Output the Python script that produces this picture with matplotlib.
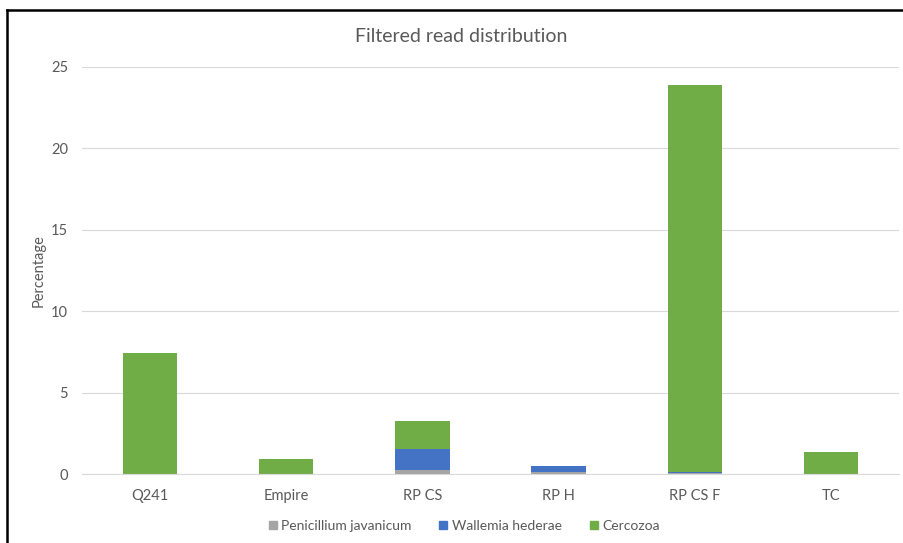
import numpy as np
import matplotlib.pyplot as plt
from matplotlib.lines import Line2D

# Filtered read distribution per sample (percent of reads)
samples = ['Q241', 'Empire', 'RP CS', 'RP H', 'RP CS F', 'TC']
penicillium = [0.0, 0.0, 0.25, 0.1, 0.05, 0.0]
wallemia = [0.0, 0.0, 1.3, 0.4, 0.1, 0.0]
cercozoa = [7.43, 0.92, 1.71, 0.0, 23.75, 1.33]

series = [
    ('Penicillium javanicum', penicillium, '#A5A5A5'),
    ('Wallemia hederae', wallemia, '#4472C4'),
    ('Cercozoa', cercozoa, '#70AD47'),
]

plt.rcParams['font.family'] = ['Lato', 'DejaVu Sans']
text_col = '#595959'

fig = plt.figure(figsize=(9.04, 5.43), dpi=100)
ax = fig.add_axes([82 / 904, 1 - 474 / 543, 817 / 904, 407 / 543])

x = np.arange(len(samples))
bottom = np.zeros(len(samples))
for name, vals, col in series:
    ax.bar(x, vals, width=0.4, bottom=bottom, color=col, label=name,
           linewidth=0, zorder=3)
    bottom += np.array(vals)

ax.set_xlim(-0.5, len(samples) - 0.5)
ax.set_ylim(0, 25)
ax.set_yticks(range(0, 26, 5))
ax.set_xticks(x)
ax.set_xticklabels(samples)
ax.grid(axis='y', color='#D9D9D9', linewidth=0.8, zorder=0)
for s in ['top', 'right', 'left']:
    ax.spines[s].set_visible(False)
ax.spines['bottom'].set_color('#D9D9D9')
ax.spines['bottom'].set_zorder(4)
ax.tick_params(axis='both', length=0, labelsize=10.5, colors=text_col)
ax.tick_params(axis='y', pad=10)
ax.tick_params(axis='x', pad=11)
ax.set_ylabel('Percentage', fontsize=10.5, color=text_col, labelpad=4)

fig.text(0.51, 1 - 36 / 543, 'Filtered read distribution', ha='center', va='center',
         fontsize=14, color=text_col)

handles = [Line2D([], [], marker='s', linestyle='none', markersize=6,
                  markerfacecolor=c, markeredgecolor=c) for _, _, c in series]
fig.legend(handles, [n for n, _, _ in series], loc='center',
           bbox_to_anchor=(464 / 904, 1 - 526 / 543), ncol=3, frameon=False,
           fontsize=10, labelcolor=text_col, handlelength=0.6,
           handletextpad=0.3, columnspacing=2.0)

# frame edge on the left and top
fig.add_artist(Line2D([7 / 904, 7 / 904], [0, 1 - 10 / 543], color='black', linewidth=1.8))
fig.add_artist(Line2D([7 / 904, 1], [1 - 10 / 543, 1 - 10 / 543], color='black', linewidth=1.8))

fig.savefig('out.png', dpi=100)
